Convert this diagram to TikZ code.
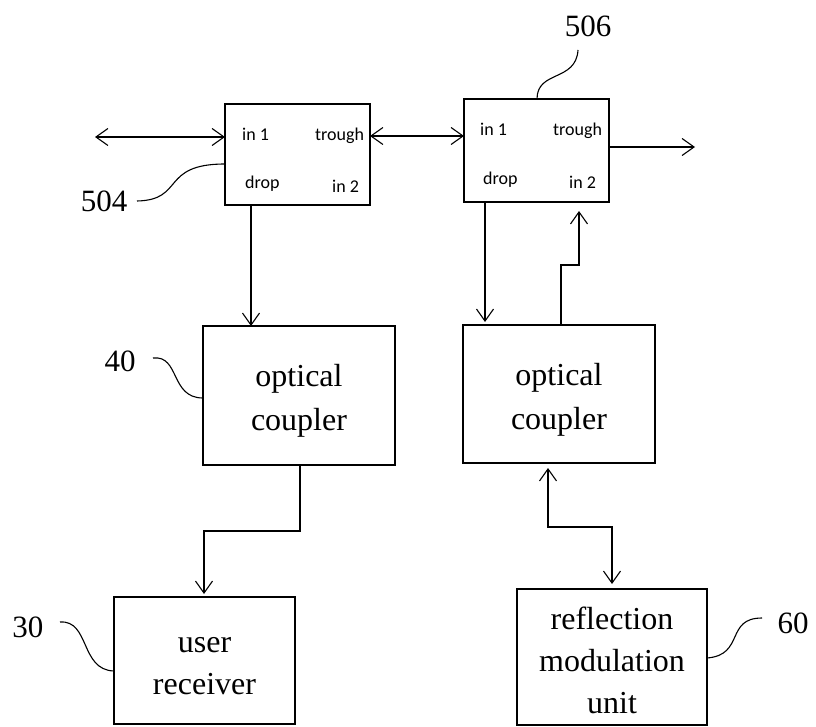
\documentclass[tikz,border=0pt]{standalone}
\usepackage{fontspec}
\setmainfont{Liberation Serif}
\newfontfamily\portfont{Carlito}
\usetikzlibrary{arrows.meta}
\newcommand\tstrut[1]{\rule{0pt}{#1}}
\begin{document}
\begin{tikzpicture}[x=1pt,y=-1pt,
  blk/.style={draw, line width=2.5pt, inner sep=0pt, outer sep=0pt, anchor=north west, align=center, font=\fontsize{32}{44}\selectfont},
  port/.style={anchor=base west, inner sep=0pt, font=\portfont\fontsize{18}{20}\selectfont},
  num/.style={inner sep=0pt, font=\fontsize{31}{36}\selectfont},
  tipb/.tip={Straight Barb[length=12pt,width=17pt]},
  conn/.style={line width=1.1pt, -tipb},
  dconn/.style={line width=1.1pt, tipb-tipb},
  lead/.style={line width=1.1pt}]
\useasboundingbox (0,0) rectangle (816,727);
% blocks
\node[blk, minimum width=145pt, minimum height=101pt] (b504) at (225,104) {};
\node[blk, minimum width=145pt, minimum height=103pt] (b506) at (464,99) {};
\node[blk, minimum width=192pt, minimum height=139pt] (c1) at (203,326) {\tstrut{33pt}optical\\coupler};
\node[blk, minimum width=192pt, minimum height=138pt] (c2) at (463,325) {\tstrut{33pt}optical\\coupler};
\node[blk, minimum width=181pt, minimum height=127pt, font=\fontsize{32}{42}\selectfont] (ur) at (114,597) {\tstrut{27pt}user\\receiver};
\node[blk, minimum width=190pt, minimum height=136pt, font=\fontsize{32}{42}\selectfont] (rmu) at (517,589) {\tstrut{30pt}reflection\\modulation\\unit};
% port labels
\node[port] (a1) at (242,141) {in 1};
\node[port] (a2) at (315,141) {trough};
\node[port] (a3) at (245,189) {drop};
\node[port] (a4) at (332,193) {in 2};
\node[port] (b1) at (480,136) {in 1};
\node[port] (b2) at (553,136) {trough};
\node[port] (b3) at (483,185) {drop};
\node[port] (b4) at (569,189) {in 2};
% reference numbers
\node[num] (n504) at (104,201) {504};
\node[num] (n506) at (588,26) {506};
\node[num] (n40) at (120,361) {40};
\node[num] (n30) at (28,627) {30};
\node[num] (n60) at (793,623) {60};
% helper coordinates
\coordinate (l1) at (95,137);
\coordinate (m1) at (0,136);
\coordinate (r1) at (695,147);
\coordinate (x251) at (251,0);
\coordinate (x485) at (485,0);
\coordinate (k5) at (561,265);
\coordinate (x579) at (579,0);
\coordinate (k1) at (300,531);
\coordinate (x204) at (204,0);
\coordinate (x548) at (548,0);
\coordinate (k2) at (612,527);
% connectors
\draw[dconn] (l1) -- (l1 -| b504.west);
\draw[dconn] (m1 -| b504.east) -- (m1 -| b506.west);
\draw[conn] (r1 -| b506.east) -- (r1);
\draw[conn] (x251 |- b504.south) -- (x251 |- c1.north);
\draw[conn, shorten >=3pt] (x485 |- b506.south) -- (x485 |- c2.north);
\draw[conn, shorten >=9pt] (k5 |- c2.north) -- (k5) -- (k5 -| x579) -- (x579 |- b506.south);
\draw[conn, shorten >=3pt] (k1 |- c1.south) -- (k1) -- (k1 -| x204) -- (x204 |- ur.north);
\draw[dconn, shorten <=5pt, shorten >=5pt] (x548 |- c2.south) -- (x548 |- k2) -- (k2) -- (k2 |- rmu.north);
% leaders
\coordinate (s504) at (137,201);
\coordinate (s506) at (578,50);
\coordinate (s40) at (153,358);
\coordinate (s30) at (60,622);
\coordinate (s60) at (762,618);
\coordinate (e504) at (225,164);
\coordinate (e506) at (537,99);
\coordinate (e40) at (203,398);
\coordinate (e30) at (114,671);
\coordinate (e60) at (707,658);
\draw[lead] (s504) .. controls (185,200) and (160,164) .. (e504);
\draw[lead] (s506) .. controls (576,82) and (537,70) .. (e506);
\draw[lead] (s40) .. controls (180,355) and (170,398) .. (e40);
\draw[lead] (s30) .. controls (90,620) and (80,670) .. (e30);
\draw[lead] (e60) .. controls (745,655) and (725,618) .. (s60);
\end{tikzpicture}
\end{document}
